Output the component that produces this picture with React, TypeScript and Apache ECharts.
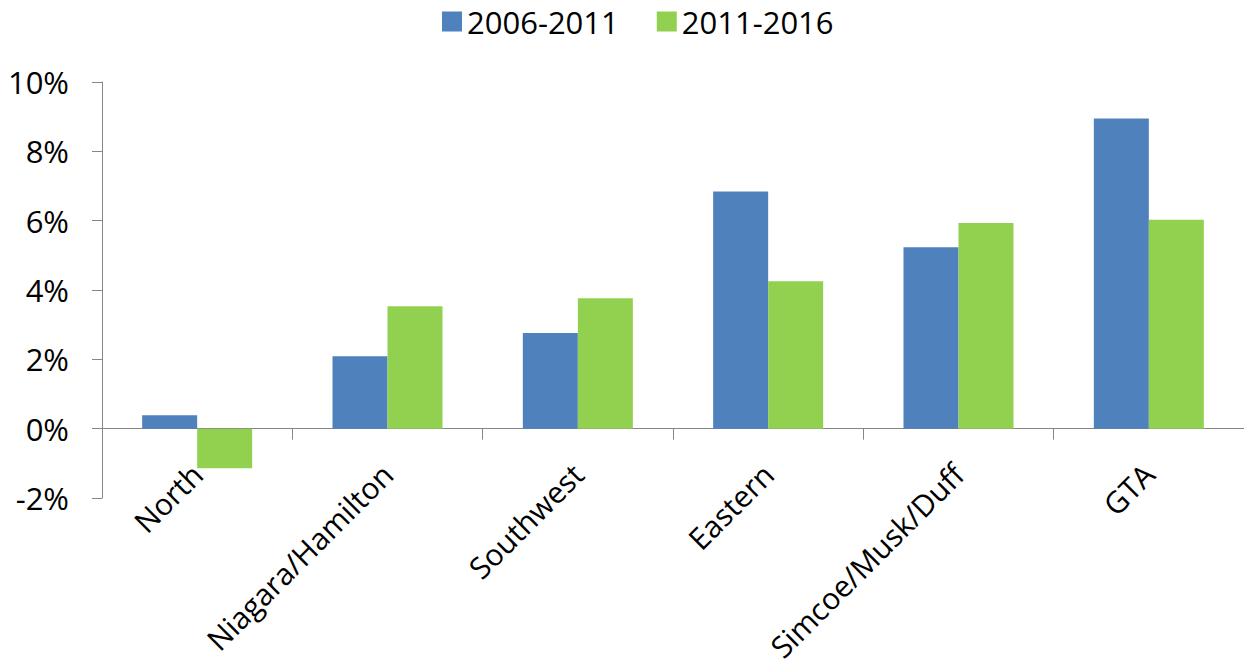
import React, { useEffect, useRef } from "react";
import * as echarts from "echarts";

// Regional growth rates, in percent
const regions = ["North", "Niagara/Hamilton", "Southwest", "Eastern", "Simcoe/Musk/Duff", "GTA"];
const period1Name = "2006-2011";
const period2Name = "2011-2016";
const period1Values = [0.39, 2.09, 2.76, 6.84, 5.23, 8.95];
const period2Values = [-1.14, 3.53, 3.76, 4.25, 5.93, 6.03];

const FONT = "'Open Sans', 'Noto Sans', sans-serif";
const AXIS_GREY = "#868686";

export default function App() {
  const ref = useRef<HTMLDivElement>(null);

  useEffect(() => {
    document.body.style.margin = "0";
    if (!ref.current) return;
    const chart = echarts.init(ref.current, undefined, { renderer: "svg" });
    chart.setOption({
      animation: false,
      backgroundColor: "#ffffff",
      textStyle: { fontFamily: FONT },
      legend: {
        top: 1,
        left: 437,
        itemWidth: 20,
        itemHeight: 20,
        itemGap: 38,
        icon: "rect",
        textStyle: { fontSize: 31, color: "#000", fontFamily: FONT, padding: [0, 0, 0, 0] },
        data: [period1Name, period2Name],
      },
      grid: {
        left: 102,
        right: 0,
        top: 82,
        bottom: 162,
        containLabel: false,
        outerBoundsMode: "none",
      },
      xAxis: {
        type: "category",
        data: regions,
        boundaryGap: true,
        axisLine: { show: true, onZero: true, lineStyle: { color: AXIS_GREY, width: 1 } },
        axisTick: { show: true, length: 11, lineStyle: { color: AXIS_GREY } },
        axisLabel: {
          rotate: 45,
          margin: -29,
          interval: 0,
          fontSize: 30,
          color: "#000",
          fontFamily: FONT,
        },
        splitLine: { show: false },
      },
      yAxis: {
        type: "value",
        min: -2,
        max: 10,
        interval: 2,
        axisLine: { show: true, lineStyle: { color: AXIS_GREY, width: 1 } },
        axisTick: { show: true, length: 10, lineStyle: { color: AXIS_GREY } },
        axisLabel: {
          formatter: "{value}%",
          margin: 33,
          fontSize: 31,
          color: "#000",
          fontFamily: FONT,
        },
        splitLine: { show: false },
      },
      series: [
        {
          name: period1Name,
          type: "bar",
          data: period1Values,
          barWidth: 55,
          barGap: "0%",
          itemStyle: { color: "#4F81BD" },
        },
        {
          name: period2Name,
          type: "bar",
          data: period2Values,
          barWidth: 55,
          barGap: "0%",
          itemStyle: { color: "#92D050" },
        },
      ],
    });
    return () => chart.dispose();
  }, []);

  return <div ref={ref} style={{ width: 1244, height: 660 }} />;
}
